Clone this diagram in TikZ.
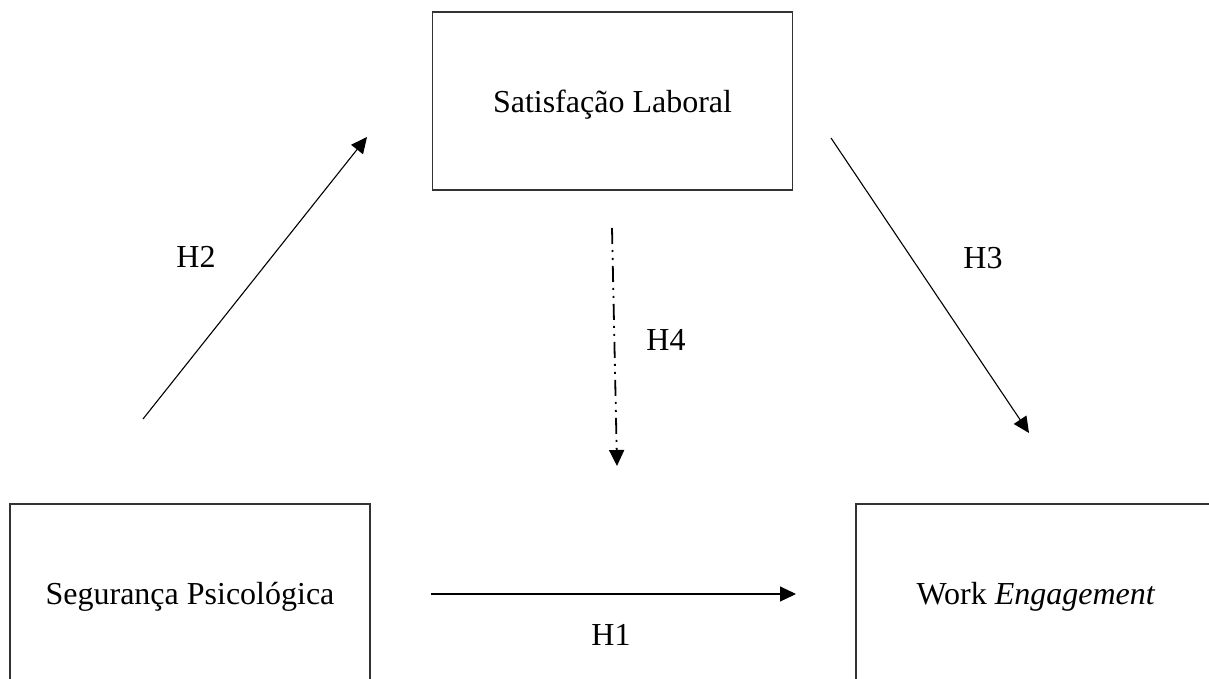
\documentclass[tikz,border=0pt]{standalone}
\usepackage{fontspec}
\setmainfont{Liberation Serif}
\usetikzlibrary{arrows.meta}
\begin{document}
\begin{tikzpicture}[x=0.5pt,y=-0.5pt,
  box/.style={draw=black!80, line width=0.8pt, rectangle, inner sep=0pt,
    minimum width=180pt, minimum height=89pt, text height=14pt, text depth=2.5pt,
    font=\fontsize{16}{19}\selectfont},
  lbl/.style={font=\fontsize{16}{19}\selectfont, inner sep=0pt},
  arr/.style={line width=0.55pt, -{Triangle[length=8pt,width=7.5pt]}},
  dda/.style={line width=0.9pt, dash pattern=on 8pt off 3pt on 1pt off 3pt on 1pt off 3pt,
    -{Triangle[length=8pt,width=7.5pt]}}]
\useasboundingbox (0,0) rectangle (1209,679);
\fill[white] (0,0) rectangle (1209,679);

\node[box] (sat) at (612.5,101) {Satisfação Laboral};
\node[box] (seg) at (190,593) {Segurança Psicológica};
\node[box] (work) at (1036,593) {Work \textit{Engagement}};

\coordinate (h2s) at (143,419);
\coordinate (h2e) at (367,137);
\coordinate (h3s) at (831,138);
\coordinate (h3e) at (1029,433);
\coordinate (h4s) at (612,228);
\coordinate (h4e) at (617,466);
\coordinate (h1s) at (431,594);
\coordinate (h1e) at (796,594);

\draw[arr] (h2s) -- (h2e);
\draw[arr] (h3s) -- (h3e);
\draw[dda] (h4s) -- (h4e);
\draw[arr] (h1s) -- (h1e);

\node[lbl] (l2) at (196,257) {H2};
\node[lbl] (l3) at (983,258) {H3};
\node[lbl] (l4) at (666,340) {H4};
\node[lbl] (l1) at (611,635) {H1};
\end{tikzpicture}
\end{document}
